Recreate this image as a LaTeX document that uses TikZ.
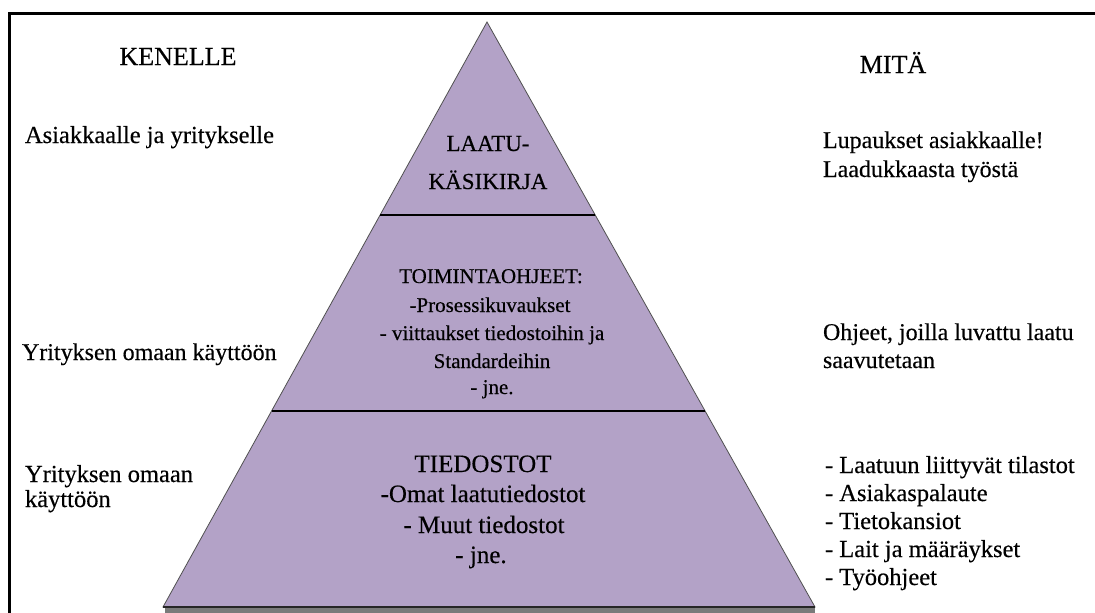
\documentclass[tikz,border=0pt]{standalone}
\usepackage{fontspec}
\setmainfont{Liberation Serif}[FakeBold=0.35]
\usetikzlibrary{calc}
\definecolor{pyrfill}{HTML}{B3A2C7}
\definecolor{pyredge}{HTML}{505050}
\definecolor{pyrshadow}{HTML}{7A7A7A}
\begin{document}
\begin{tikzpicture}[x=1pt,y=-1pt,
  lbl/.style={inner sep=0pt,outer sep=0pt,text=black},
  side/.style={lbl,anchor=base west},
  mid/.style={lbl,anchor=base}]
\useasboundingbox (0,0) rectangle (1095,613);
\fill[white] (0,0) rectangle (1095,613);

% open frame (top and left edges)
\draw[line width=3pt] (9.5,613) -- (9.5,13.5) -- (1095,13.5);

% pyramid corners
\coordinate (apex) at (487,22);
\coordinate (bl) at (163,607);
\coordinate (br) at (815,607);

% shadow under the base
\fill[pyrshadow] (165,607) rectangle (815,613);

% pyramid body
\filldraw[fill=pyrfill,draw=pyredge,line width=0.8pt] (apex) -- (br) -- (bl) -- cycle;

% level dividers
\coordinate (d1l) at ($(apex)!0.3299!(bl)$);
\coordinate (d1r) at ($(apex)!0.3299!(br)$);
\coordinate (d2l) at ($(apex)!0.665!(bl)$);
\coordinate (d2r) at ($(apex)!0.665!(br)$);
\draw[line width=1.8pt,black] (d1l) -- (d1r);
\draw[line width=1.5pt,black] (d2l) -- (d2r);
\draw[line width=1.5pt,black!85] (bl) -- (br);

% column headings
\node[mid,font=\fontsize{26}{30}\selectfont] (kenelle) at (178,65) {KENELLE};
\node[mid,font=\fontsize{26}{30}\selectfont] (mita) at (893,73) {MITÄ};

% top level
\node[side,font=\fontsize{24.5}{28}\selectfont] (k1) at (25,143) {Asiakkaalle ja yritykselle};
\node[mid,font=\fontsize{23}{28}\selectfont] (t1a) at (488,151) {LAATU-};
\node[mid,font=\fontsize{23}{28}\selectfont] (t1b) at (488,189) {KÄSIKIRJA};
\node[side,font=\fontsize{24}{28}\selectfont] (m1a) at (823,148) {Lupaukset asiakkaalle!};
\node[side,font=\fontsize{24}{28}\selectfont] (m1b) at (823,177) {Laadukkaasta työstä};

% middle level
\node[side,font=\fontsize{24}{28}\selectfont] (k2) at (22,360) {Yrityksen omaan käyttöön};
\node[mid,font=\fontsize{21}{26}\selectfont] (t2a) at (491,283) {TOIMINTAOHJEET:};
\node[mid,font=\fontsize{21}{26}\selectfont] (t2b) at (490,312) {-Prosessikuvaukset};
\node[mid,font=\fontsize{21}{26}\selectfont] (t2c) at (492,340) {- viittaukset tiedostoihin ja};
\node[mid,font=\fontsize{21}{26}\selectfont] (t2d) at (492,368) {Standardeihin};
\node[mid,font=\fontsize{21}{26}\selectfont] (t2e) at (492,394) {- jne.};
\node[side,font=\fontsize{24}{28}\selectfont] (m2a) at (823,340) {Ohjeet, joilla luvattu laatu};
\node[side,font=\fontsize{24}{28}\selectfont] (m2b) at (823,368) {saavutetaan};

% bottom level
\node[side,font=\fontsize{24.5}{28}\selectfont] (k3a) at (25,482) {Yrityksen omaan};
\node[side,font=\fontsize{24.5}{28}\selectfont] (k3b) at (25,507) {käyttöön};
\node[mid,font=\fontsize{25}{30}\selectfont] (t3a) at (483,472) {TIEDOSTOT};
\node[mid,font=\fontsize{25}{30}\selectfont] (t3b) at (483,502) {-Omat laatutiedostot};
\node[mid,font=\fontsize{25}{30}\selectfont] (t3c) at (484,533) {- Muut tiedostot};
\node[mid,font=\fontsize{25}{30}\selectfont] (t3d) at (481,563) {- jne.};
\node[side,font=\fontsize{24.5}{28}\selectfont] (m3a) at (825,473) {- Laatuun liittyvät tilastot};
\node[side,font=\fontsize{24.5}{28}\selectfont] (m3b) at (825,501) {- Asiakaspalaute};
\node[side,font=\fontsize{24.5}{28}\selectfont] (m3c) at (825,529) {- Tietokansiot};
\node[side,font=\fontsize{24.5}{28}\selectfont] (m3d) at (825,557) {- Lait ja määräykset};
\node[side,font=\fontsize{24.5}{28}\selectfont] (m3e) at (825,585) {- Työohjeet};
\end{tikzpicture}
\end{document}
